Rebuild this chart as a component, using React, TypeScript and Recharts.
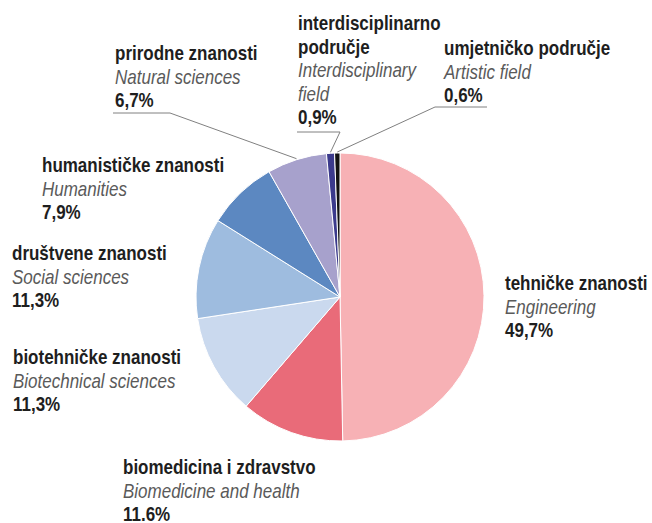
import { PieChart, Pie, Cell } from 'recharts'

const NAMES_HR = [
  ['tehničke znanosti'],
  ['biomedicina i zdravstvo'],
  ['biotehničke znanosti'],
  ['društvene znanosti'],
  ['humanističke znanosti'],
  ['prirodne znanosti'],
  ['interdisciplinarno', 'područje'],
  ['umjetničko područje'],
]
const NAMES_EN = [
  ['Engineering'],
  ['Biomedicine and health'],
  ['Biotechnical sciences'],
  ['Social sciences'],
  ['Humanities'],
  ['Natural sciences'],
  ['Interdisciplinary', 'field'],
  ['Artistic field'],
]
const SHARES = [49.7, 11.6, 11.3, 11.3, 7.9, 6.7, 0.9, 0.6]
const SHARE_TEXT = ['49,7%', '11.6%', '11,3%', '11,3%', '7,9%', '6,7%', '0,9%', '0,6%']
const COLORS = ['#f7b1b5', '#e96b79', '#cad9ee', '#9ebcdf', '#5c88c1', '#a7a1cc', '#3b3a8c', '#121212']

// top-left of each label block (first line centre) and optional leader elbow
const LABEL_POS = [
  { x: 505, y: 283 },
  { x: 123, y: 467 },
  { x: 13, y: 357 },
  { x: 12, y: 253 },
  { x: 42, y: 165 },
  { x: 115, y: 53, leader: { x1: 113, x2: 170, y: 113, elbow: 170 } },
  { x: 298, y: 23, leader: { x1: 297, x2: 340, y: 132, elbow: 340 } },
  { x: 444, y: 48, leader: { x1: 435, x2: 487, y: 107, elbow: 435 } },
]

const FONT = "'Liberation Sans', Arial, sans-serif"
const LINE_H = 23.5
const SQUEEZE = 0.85
const RADIAN = Math.PI / 180

const data = SHARES.map((v, i) => ({ name: NAMES_HR[i].join(' '), value: v }))

function renderLabel(props: any) {
  const { cx, cy, midAngle, outerRadius, index } = props
  const pos = LABEL_POS[index]
  const lines: { text: string; kind: 'hr' | 'en' | 'pct' }[] = [
    ...NAMES_HR[index].map(t => ({ text: t, kind: 'hr' as const })),
    ...NAMES_EN[index].map(t => ({ text: t, kind: 'en' as const })),
    { text: SHARE_TEXT[index], kind: 'pct' },
  ]
  let leader = null
  if (pos.leader) {
    const ex = cx + (outerRadius + 1) * Math.cos(-midAngle * RADIAN)
    const ey = cy + (outerRadius + 1) * Math.sin(-midAngle * RADIAN)
    const l = pos.leader
    leader = (
      <path
        d={`M${l.x1},${l.y}L${l.x2},${l.y}M${l.elbow},${l.y}L${ex},${ey}`}
        stroke="#808080"
        strokeWidth={1}
        fill="none"
      />
    )
  }
  return (
    <g key={`lbl-${index}`}>
      {leader}
      {lines.map((ln, i) => (
        <g key={i} transform={`translate(${pos.x},${pos.y + i * LINE_H + 7}) scale(${SQUEEZE},1)`}>
          <text
            x={0}
            y={0}
            fontFamily={FONT}
            fontSize={20}
            fontStyle={ln.kind === 'en' ? 'italic' : 'normal'}
            fontWeight={ln.kind === 'en' ? 'normal' : 'bold'}
            fill={ln.kind === 'en' ? '#5a5a5a' : '#1e1e1e'}
            textAnchor="start"
          >
            {ln.text}
          </text>
        </g>
      ))}
    </g>
  )
}

export default function App() {
  return (
    <div style={{ position: 'absolute', left: 0, top: 0, width: 652, height: 523, background: '#fff' }}>
      <PieChart width={652} height={523} margin={{ top: 0, right: 0, bottom: 0, left: 0 }}>
        <Pie
          data={data}
          dataKey="value"
          cx={340}
          cy={297}
          outerRadius={144}
          startAngle={90}
          endAngle={-270}
          stroke="#ffffff"
          strokeWidth={1}
          label={renderLabel}
          labelLine={false}
          isAnimationActive={false}
        >
          {data.map((d, i) => (
            <Cell key={d.name} fill={COLORS[i]} />
          ))}
        </Pie>
      </PieChart>
    </div>
  )
}
